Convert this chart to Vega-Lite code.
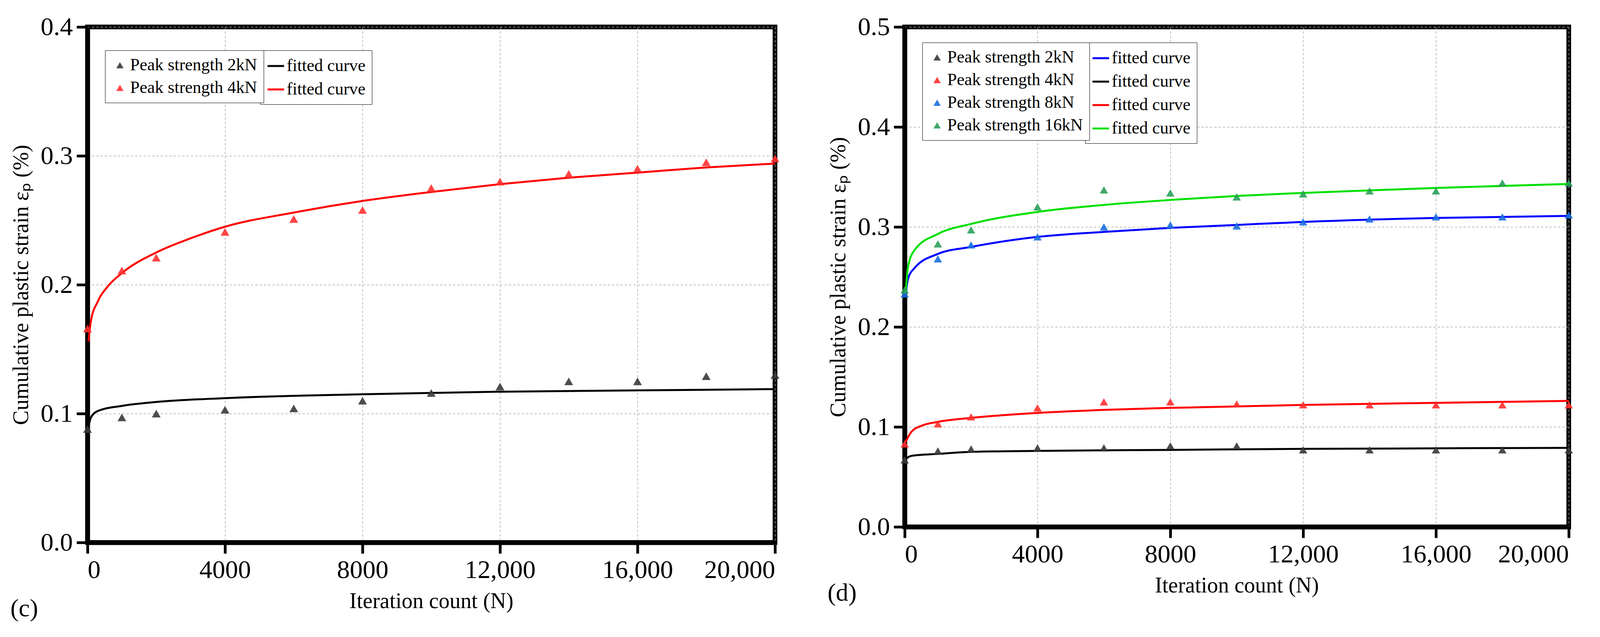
{
  "$schema": "https://vega.github.io/schema/vega-lite/v6.json",
  "background": "white",
  "padding": {"left": 20, "top": 30, "right": 60, "bottom": 10},
  "config": {
    "font": "Liberation Serif",
    "view": {"stroke": "black", "strokeWidth": 12},
    "axis": {
      "labelFont": "Liberation Serif", "titleFont": "Liberation Serif",
      "labelFontSize": 66, "titleFontSize": 56, "titleFontWeight": "normal",
      "labelColor": "black", "titleColor": "black", "labelLimit": 1000,
      "domainColor": "black", "domainWidth": 12, "tickColor": "black", "tickWidth": 7, "tickSize": 28,
      "gridColor": "#aaaaaa", "gridDash": [6, 5], "gridWidth": 1.5, "labelPadding": 10
    },
    "legend": {"labelFont": "Liberation Serif", "labelFontSize": 44, "labelColor": "black", "rowPadding": 14, "labelLimit": 800, "padding": 16, "fillColor": "white", "strokeColor": "black"},
    "title": {"font": "Liberation Serif", "fontSize": 64, "fontWeight": "normal", "orient": "bottom", "anchor": "start", "offset": 10}
  },
  "datasets": {
    "c": [
      {"kind": "pt", "s": "2kN", "x": 0, "y": 0.088}, {"kind": "pt", "s": "2kN", "x": 1000, "y": 0.097}, {"kind": "pt", "s": "2kN", "x": 2000, "y": 0.100}, {"kind": "pt", "s": "2kN", "x": 4000, "y": 0.103}, {"kind": "pt", "s": "2kN", "x": 6000, "y": 0.104}, {"kind": "pt", "s": "2kN", "x": 8000, "y": 0.110}, {"kind": "pt", "s": "2kN", "x": 10000, "y": 0.116}, {"kind": "pt", "s": "2kN", "x": 12000, "y": 0.121}, {"kind": "pt", "s": "2kN", "x": 14000, "y": 0.125}, {"kind": "pt", "s": "2kN", "x": 16000, "y": 0.125}, {"kind": "pt", "s": "2kN", "x": 18000, "y": 0.129}, {"kind": "pt", "s": "2kN", "x": 20000, "y": 0.130},
      {"kind": "pt", "s": "4kN", "x": 0, "y": 0.166}, {"kind": "pt", "s": "4kN", "x": 1000, "y": 0.211}, {"kind": "pt", "s": "4kN", "x": 2000, "y": 0.221}, {"kind": "pt", "s": "4kN", "x": 4000, "y": 0.241}, {"kind": "pt", "s": "4kN", "x": 6000, "y": 0.251}, {"kind": "pt", "s": "4kN", "x": 8000, "y": 0.258}, {"kind": "pt", "s": "4kN", "x": 10000, "y": 0.275}, {"kind": "pt", "s": "4kN", "x": 12000, "y": 0.280}, {"kind": "pt", "s": "4kN", "x": 14000, "y": 0.286}, {"kind": "pt", "s": "4kN", "x": 16000, "y": 0.290}, {"kind": "pt", "s": "4kN", "x": 18000, "y": 0.295}, {"kind": "pt", "s": "4kN", "x": 20000, "y": 0.298},
      {"kind": "fit", "s": "c2", "x": 30, "y": 0.090}, {"kind": "fit", "s": "c2", "x": 100, "y": 0.097}, {"kind": "fit", "s": "c2", "x": 300, "y": 0.102}, {"kind": "fit", "s": "c2", "x": 1000, "y": 0.106}, {"kind": "fit", "s": "c2", "x": 2000, "y": 0.109}, {"kind": "fit", "s": "c2", "x": 4000, "y": 0.112}, {"kind": "fit", "s": "c2", "x": 8000, "y": 0.115}, {"kind": "fit", "s": "c2", "x": 12000, "y": 0.117}, {"kind": "fit", "s": "c2", "x": 16000, "y": 0.118}, {"kind": "fit", "s": "c2", "x": 20000, "y": 0.119},
      {"kind": "fit", "s": "c4", "x": 30, "y": 0.156}, {"kind": "fit", "s": "c4", "x": 100, "y": 0.172}, {"kind": "fit", "s": "c4", "x": 300, "y": 0.187}, {"kind": "fit", "s": "c4", "x": 600, "y": 0.199}, {"kind": "fit", "s": "c4", "x": 1000, "y": 0.209}, {"kind": "fit", "s": "c4", "x": 2000, "y": 0.225}, {"kind": "fit", "s": "c4", "x": 3000, "y": 0.236}, {"kind": "fit", "s": "c4", "x": 4000, "y": 0.245}, {"kind": "fit", "s": "c4", "x": 6000, "y": 0.256}, {"kind": "fit", "s": "c4", "x": 8000, "y": 0.265}, {"kind": "fit", "s": "c4", "x": 10000, "y": 0.272}, {"kind": "fit", "s": "c4", "x": 12000, "y": 0.278}, {"kind": "fit", "s": "c4", "x": 14000, "y": 0.283}, {"kind": "fit", "s": "c4", "x": 16000, "y": 0.287}, {"kind": "fit", "s": "c4", "x": 18000, "y": 0.291}, {"kind": "fit", "s": "c4", "x": 20000, "y": 0.294}
    ],
    "d": [
      {"kind": "pt", "s": "2kN", "x": 0, "y": 0.067}, {"kind": "pt", "s": "2kN", "x": 1000, "y": 0.076}, {"kind": "pt", "s": "2kN", "x": 2000, "y": 0.078}, {"kind": "pt", "s": "2kN", "x": 4000, "y": 0.079}, {"kind": "pt", "s": "2kN", "x": 6000, "y": 0.079}, {"kind": "pt", "s": "2kN", "x": 8000, "y": 0.081}, {"kind": "pt", "s": "2kN", "x": 10000, "y": 0.081}, {"kind": "pt", "s": "2kN", "x": 12000, "y": 0.077}, {"kind": "pt", "s": "2kN", "x": 14000, "y": 0.077}, {"kind": "pt", "s": "2kN", "x": 16000, "y": 0.077}, {"kind": "pt", "s": "2kN", "x": 18000, "y": 0.077}, {"kind": "pt", "s": "2kN", "x": 20000, "y": 0.077},
      {"kind": "pt", "s": "4kN", "x": 0, "y": 0.083}, {"kind": "pt", "s": "4kN", "x": 1000, "y": 0.103}, {"kind": "pt", "s": "4kN", "x": 2000, "y": 0.110}, {"kind": "pt", "s": "4kN", "x": 4000, "y": 0.119}, {"kind": "pt", "s": "4kN", "x": 6000, "y": 0.125}, {"kind": "pt", "s": "4kN", "x": 8000, "y": 0.125}, {"kind": "pt", "s": "4kN", "x": 10000, "y": 0.123}, {"kind": "pt", "s": "4kN", "x": 12000, "y": 0.122}, {"kind": "pt", "s": "4kN", "x": 14000, "y": 0.122}, {"kind": "pt", "s": "4kN", "x": 16000, "y": 0.122}, {"kind": "pt", "s": "4kN", "x": 18000, "y": 0.122}, {"kind": "pt", "s": "4kN", "x": 20000, "y": 0.122},
      {"kind": "pt", "s": "8kN", "x": 0, "y": 0.233}, {"kind": "pt", "s": "8kN", "x": 1000, "y": 0.268}, {"kind": "pt", "s": "8kN", "x": 2000, "y": 0.282}, {"kind": "pt", "s": "8kN", "x": 4000, "y": 0.290}, {"kind": "pt", "s": "8kN", "x": 6000, "y": 0.300}, {"kind": "pt", "s": "8kN", "x": 8000, "y": 0.302}, {"kind": "pt", "s": "8kN", "x": 10000, "y": 0.301}, {"kind": "pt", "s": "8kN", "x": 12000, "y": 0.305}, {"kind": "pt", "s": "8kN", "x": 14000, "y": 0.308}, {"kind": "pt", "s": "8kN", "x": 16000, "y": 0.310}, {"kind": "pt", "s": "8kN", "x": 18000, "y": 0.310}, {"kind": "pt", "s": "8kN", "x": 20000, "y": 0.312},
      {"kind": "pt", "s": "16kN", "x": 0, "y": 0.237}, {"kind": "pt", "s": "16kN", "x": 1000, "y": 0.283}, {"kind": "pt", "s": "16kN", "x": 2000, "y": 0.297}, {"kind": "pt", "s": "16kN", "x": 4000, "y": 0.320}, {"kind": "pt", "s": "16kN", "x": 6000, "y": 0.337}, {"kind": "pt", "s": "16kN", "x": 8000, "y": 0.334}, {"kind": "pt", "s": "16kN", "x": 10000, "y": 0.330}, {"kind": "pt", "s": "16kN", "x": 12000, "y": 0.333}, {"kind": "pt", "s": "16kN", "x": 14000, "y": 0.336}, {"kind": "pt", "s": "16kN", "x": 16000, "y": 0.336}, {"kind": "pt", "s": "16kN", "x": 18000, "y": 0.344}, {"kind": "pt", "s": "16kN", "x": 20000, "y": 0.344},
      {"kind": "fit", "s": "c2", "x": 30, "y": 0.068}, {"kind": "fit", "s": "c2", "x": 200, "y": 0.071}, {"kind": "fit", "s": "c2", "x": 1000, "y": 0.073}, {"kind": "fit", "s": "c2", "x": 2000, "y": 0.075}, {"kind": "fit", "s": "c2", "x": 4000, "y": 0.076}, {"kind": "fit", "s": "c2", "x": 8000, "y": 0.077}, {"kind": "fit", "s": "c2", "x": 12000, "y": 0.078}, {"kind": "fit", "s": "c2", "x": 20000, "y": 0.079},
      {"kind": "fit", "s": "c4", "x": 30, "y": 0.085}, {"kind": "fit", "s": "c4", "x": 200, "y": 0.095}, {"kind": "fit", "s": "c4", "x": 500, "y": 0.101}, {"kind": "fit", "s": "c4", "x": 1000, "y": 0.105}, {"kind": "fit", "s": "c4", "x": 2000, "y": 0.109}, {"kind": "fit", "s": "c4", "x": 4000, "y": 0.114}, {"kind": "fit", "s": "c4", "x": 6000, "y": 0.117}, {"kind": "fit", "s": "c4", "x": 8000, "y": 0.119}, {"kind": "fit", "s": "c4", "x": 12000, "y": 0.122}, {"kind": "fit", "s": "c4", "x": 16000, "y": 0.124}, {"kind": "fit", "s": "c4", "x": 20000, "y": 0.126},
      {"kind": "fit", "s": "c8", "x": 30, "y": 0.232}, {"kind": "fit", "s": "c8", "x": 100, "y": 0.248}, {"kind": "fit", "s": "c8", "x": 300, "y": 0.259}, {"kind": "fit", "s": "c8", "x": 1000, "y": 0.273}, {"kind": "fit", "s": "c8", "x": 2000, "y": 0.280}, {"kind": "fit", "s": "c8", "x": 4000, "y": 0.290}, {"kind": "fit", "s": "c8", "x": 6000, "y": 0.295}, {"kind": "fit", "s": "c8", "x": 8000, "y": 0.299}, {"kind": "fit", "s": "c8", "x": 10000, "y": 0.302}, {"kind": "fit", "s": "c8", "x": 12000, "y": 0.305}, {"kind": "fit", "s": "c8", "x": 16000, "y": 0.309}, {"kind": "fit", "s": "c8", "x": 20000, "y": 0.311},
      {"kind": "fit", "s": "c16", "x": 30, "y": 0.234}, {"kind": "fit", "s": "c16", "x": 100, "y": 0.260}, {"kind": "fit", "s": "c16", "x": 300, "y": 0.277}, {"kind": "fit", "s": "c16", "x": 1000, "y": 0.293}, {"kind": "fit", "s": "c16", "x": 2000, "y": 0.303}, {"kind": "fit", "s": "c16", "x": 4000, "y": 0.315}, {"kind": "fit", "s": "c16", "x": 6000, "y": 0.322}, {"kind": "fit", "s": "c16", "x": 8000, "y": 0.327}, {"kind": "fit", "s": "c16", "x": 10000, "y": 0.331}, {"kind": "fit", "s": "c16", "x": 12000, "y": 0.334}, {"kind": "fit", "s": "c16", "x": 16000, "y": 0.339}, {"kind": "fit", "s": "c16", "x": 20000, "y": 0.343}
    ]
  },
  "spacing": 110,
  "hconcat": [
    {
      "width": 1760, "height": 1320,
      "title": {"text": "(c)", "dy": -50},
      "data": {"name": "c"},
      "encoding": {
        "x": {"field": "x", "type": "quantitative", "title": "Iteration count (N)", "scale": {"domain": [0, 20000], "nice": false}, "axis": {"values": [0, 4000, 8000, 12000, 16000, 20000], "labelExpr": "datum.value >= 10000 ? format(datum.value, ',') : datum.value", "titlePadding": 20}},
        "y": {"field": "y", "type": "quantitative", "title": "Cumulative plastic strain εₚ (%)", "scale": {"domain": [0, 0.4]}, "axis": {"values": [0, 0.1, 0.2, 0.3, 0.4], "format": ".1f", "titlePadding": 20}}
      },
      "layer": [
        {
          "transform": [{"filter": "datum.kind == 'fit'"}],
          "mark": {"type": "line", "strokeWidth": 5, "interpolate": "monotone", "clip": true},
          "encoding": {
            "stroke": {"field": "s", "type": "nominal", "scale": {"domain": ["c2", "c4"], "range": ["black", "#ff0000"]}, "legend": {"orient": "none", "legendX": 442, "legendY": 60, "title": null, "symbolType": "stroke", "symbolStrokeWidth": 5, "symbolSize": 1800, "labelExpr": "'fitted curve'"}}
          }
        },
        {
          "transform": [{"filter": "datum.kind == 'pt'"}],
          "mark": {"type": "point", "shape": "triangle-up", "filled": true, "size": 500, "opacity": 0.9, "clip": false},
          "encoding": {
            "color": {"field": "s", "type": "nominal", "scale": {"domain": ["2kN", "4kN"], "range": ["#3a3a3a", "#ff3030"]}, "legend": {"orient": "none", "legendX": 45, "legendY": 60, "title": null, "symbolType": "triangle-up", "symbolSize": 350, "labelExpr": "'Peak strength ' + datum.label"}}
          }
        }
      ],
      "resolve": {"scale": {"color": "independent", "stroke": "independent"}}
    },
    {
      "width": 1700, "height": 1280,
      "title": {"text": "(d)", "dy": -50},
      "data": {"name": "d"},
      "encoding": {
        "x": {"field": "x", "type": "quantitative", "title": "Iteration count (N)", "scale": {"domain": [0, 20000], "nice": false}, "axis": {"values": [0, 4000, 8000, 12000, 16000, 20000], "labelExpr": "datum.value >= 10000 ? format(datum.value, ',') : datum.value", "titlePadding": 20}},
        "y": {"field": "y", "type": "quantitative", "title": "Cumulative plastic strain εₚ (%)", "scale": {"domain": [0, 0.5]}, "axis": {"values": [0, 0.1, 0.2, 0.3, 0.4, 0.5], "format": ".1f", "titlePadding": 20}}
      },
      "layer": [
        {
          "transform": [{"filter": "datum.kind == 'fit'"}],
          "mark": {"type": "line", "strokeWidth": 5, "interpolate": "monotone", "clip": true},
          "encoding": {
            "stroke": {"field": "s", "type": "nominal", "scale": {"domain": ["c8", "c2", "c4", "c16"], "range": ["#0000ff", "black", "#ff0000", "#00e000"]}, "legend": {"orient": "none", "legendX": 462, "legendY": 40, "title": null, "symbolType": "stroke", "symbolStrokeWidth": 5, "symbolSize": 1800, "labelExpr": "'fitted curve'"}}
          }
        },
        {
          "transform": [{"filter": "datum.kind == 'pt'"}],
          "mark": {"type": "point", "shape": "triangle-up", "filled": true, "size": 450, "opacity": 0.9, "clip": false},
          "encoding": {
            "color": {"field": "s", "type": "nominal", "scale": {"domain": ["2kN", "4kN", "8kN", "16kN"], "range": ["#3a3a3a", "#ff3030", "#1a6fe0", "#2aa05a"]}, "legend": {"orient": "none", "legendX": 45, "legendY": 40, "title": null, "symbolType": "triangle-up", "symbolSize": 350, "labelExpr": "'Peak strength ' + datum.label"}}
          }
        }
      ],
      "resolve": {"scale": {"color": "independent", "stroke": "independent"}}
    }
  ]
}
